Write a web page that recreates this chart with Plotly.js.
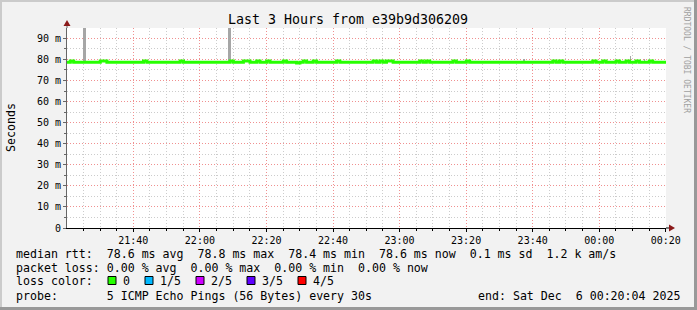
<!DOCTYPE html>
<html>
<head>
<meta charset="utf-8">
<script src="https://cdn.plot.ly/plotly-3.0.1.min.js"></script>
<style>html,body{margin:0;padding:0;background:#f2f2f2;}#chart{width:697px;height:310px;}</style>
</head>
<body>
<div id="chart"></div>
<script>
// ---------------- data ----------------
const chartTitle = 'Last 3 Hours from e39b9d306209';
const rangeStart = '2025-12-05 21:20:04';
const rangeEnd = '2025-12-06 00:20:04';
const medianStepMinutes = 1;
// median RTT (ms), one value per minute starting at rangeStart
const medianValues = [
  78.6,79.2,78.6,78.6,78.6,78.6,78.6,78.6,78.6,78.6, 79.2,79.2,78.6,78.6,78.6,78.6,78.6,78.6,78.6,78.6,
  78.6,78.6,78.6,79.2,78.6,78.6,78.6,78.6,78.6,78.6, 78.6,78.6,78.6,78.6,79.2,78.6,78.6,78.6,78.6,78.6,
  78.6,78.6,78.6,78.6,78.6,78.6,78.6,78.6,78.6,79.2, 78.6,78.6,78.6,79.2,79.2,78.6,78.6,79.2,78.6,78.6,
  79.2,78.6,78.6,78.6,78.6,79.2,78.6,78.6,78.6,78.3, 78.6,79.2,78.6,78.6,79.2,78.6,78.6,78.6,78.6,78.6,
  78.6,79.2,78.6,78.6,78.6,78.6,78.6,78.6,78.6,78.6, 78.6,78.6,79.2,78.6,79.2,78.6,79.2,79.2,78.6,78.6,
  78.6,78.6,78.6,78.6,78.6,78.6,79.2,78.6,79.2,78.6, 78.6,78.6,78.6,78.6,78.6,78.6,79.2,78.6,78.6,78.6,
  79.2,78.6,78.6,78.6,78.6,78.6,78.6,78.6,78.6,78.6, 78.6,78.6,78.6,78.6,78.6,78.6,78.6,78.6,78.6,78.6,
  78.6,78.6,78.6,78.6,78.6,78.6,79.2,78.6,79.2,78.6, 78.6,78.6,78.6,78.6,78.6,78.6,78.6,78.6,79.2,78.6,
  78.6,79.2,78.6,78.6,78.6,79.2,78.6,78.6,79.2,78.6, 78.6,79.2,78.6,78.6,78.6,79.2,78.6,78.6,78.6,78.6,
  78.6
];
// smoke (spread of the 5 pings) where it shows above the median
const smokeTimes = ['2025-12-05 21:25:20','2025-12-05 22:08:50','2025-12-05 23:37:15','2025-12-06 00:09:20','2025-12-06 00:13:45'];
const smokeLow = [78.6, 78.6, 78.6, 78.6, 78.6];
const smokeHigh = [120, 120, 80.2, 81.6, 80.4];
const yTickValues = [0, 10, 20, 30, 40, 50, 60, 70, 80, 90];
const yTickLabels = ['0', '10 m', '20 m', '30 m', '40 m', '50 m', '60 m', '70 m', '80 m', '90 m'];
const yAxisTitle = 'Seconds';
const legendLines = [
  'median rtt:  78.6 ms avg  78.8 ms max  78.4 ms min  78.6 ms now  0.1 ms sd  1.2 k am/s',
  'packet loss: 0.00 % avg  0.00 % max  0.00 % min  0.00 % now',
  'loss color:',
  'probe:       5 ICMP Echo Pings (56 Bytes) every 30s'
];
const lossLabels = ['0', '1/5', '2/5', '3/5', '4/5'];
const lossColors = ['#26ff00', '#00b8ff', '#ce00ff', '#5e00ff', '#ff0000'];
const endText = 'end: Sat Dec  6 00:20:04 2025';
const watermark = 'RRDTOOL / TOBI OETIKER';

// ---------------- helpers ----------------
const L = 67, R = 666, T = 28, B = 228;
const X = p => (p - L) / (R - L);
const Y = p => (B - p) / (B - T);
const nb = s => s.replace(/ /g, '\u00A0');
function addMinutes(str, m) {
  const [d, t] = str.split(' ');
  const [yy, mo, dd] = d.split('-').map(Number);
  const [hh, mi, ss] = t.split(':').map(Number);
  const ms = Date.UTC(yy, mo - 1, dd, hh, mi, ss) + m * 60000;
  return new Date(ms).toISOString().slice(0, 19).replace('T', ' ');
}
const medianTimes = medianValues.map((_, i) => addMinutes(rangeStart, i * medianStepMinutes));

const mono = 'DejaVu Sans Mono, monospace';

const traces = [
  {
    type: 'bar',
    x: smokeTimes,
    base: smokeLow,
    y: smokeHigh.map((h, i) => h - smokeLow[i]),
    width: [54000, 54000, 36000, 18000, 18000],
    marker: {color: '#a6a6a6', line: {width: 0}},
    hoverinfo: 'skip'
  },
  {
    type: 'scatter',
    mode: 'lines',
    x: medianTimes,
    y: medianValues,
    line: {color: lossColors[0], width: 3, shape: 'hv'},
    hoverinfo: 'skip'
  }
];

const shapes = [];
const annotations = [];

// borders
shapes.push({type: 'rect', xref: 'paper', yref: 'paper', x0: X(0), x1: X(697), y0: Y(0), y1: Y(2), fillcolor: '#cbcbcb', line: {width: 0}});
shapes.push({type: 'rect', xref: 'paper', yref: 'paper', x0: X(0), x1: X(2), y0: Y(0), y1: Y(310), fillcolor: '#cbcbcb', line: {width: 0}});
shapes.push({type: 'rect', xref: 'paper', yref: 'paper', x0: X(694), x1: X(697), y0: Y(0), y1: Y(310), fillcolor: '#999999', line: {width: 0}});
shapes.push({type: 'rect', xref: 'paper', yref: 'paper', x0: X(0), x1: X(697), y0: Y(307), y1: Y(310), fillcolor: '#999999', line: {width: 0}});

// axis extensions and arrows
shapes.push({type: 'line', xref: 'paper', yref: 'paper', x0: X(666), x1: X(670), y0: 0, y1: 0, line: {color: '#000', width: 1}});
shapes.push({type: 'line', xref: 'paper', yref: 'paper', x0: 0, x1: 0, y0: 1, y1: Y(24), line: {color: '#666', width: 1}});
shapes.push({type: 'path', xref: 'paper', yref: 'paper',
  path: `M ${X(675)} ${Y(228)} L ${X(669)} ${Y(224.5)} L ${X(669)} ${Y(231.5)} Z`, fillcolor: '#8b1a1a', line: {width: 0}});
shapes.push({type: 'path', xref: 'paper', yref: 'paper',
  path: `M ${X(67)} ${Y(20)} L ${X(63.5)} ${Y(26)} L ${X(70.5)} ${Y(26)} Z`, fillcolor: '#8b1a1a', line: {width: 0}});

// legend lines
const lineY = [253.5, 267.5, 281, 295.5];
legendLines.forEach((txt, i) => {
  annotations.push({xref: 'paper', yref: 'paper', x: X(15), y: Y(lineY[i]), xanchor: 'left', yanchor: 'middle',
    text: nb(txt), showarrow: false, font: {family: mono, size: 11.6, color: '#000'}, borderpad: 0});
});
annotations.push({xref: 'paper', yref: 'paper', x: X(681), y: Y(lineY[3]), xanchor: 'right', yanchor: 'middle',
  text: nb(endText), showarrow: false, font: {family: mono, size: 11.6, color: '#000'}, borderpad: 0});

// loss color boxes
const boxX = [108, 145, 196, 247, 298];
const labX = [122, 159, 210, 261, 312];
lossLabels.forEach((lab, i) => {
  shapes.push({type: 'rect', xref: 'paper', yref: 'paper', x0: X(boxX[i]), x1: X(boxX[i] + 8), y0: Y(276.5), y1: Y(284.5),
    fillcolor: lossColors[i], line: {color: '#000', width: 1}});
  annotations.push({xref: 'paper', yref: 'paper', x: X(labX[i]), y: Y(lineY[2]), xanchor: 'left', yanchor: 'middle',
    text: nb(lab), showarrow: false, font: {family: mono, size: 11.6, color: '#000'}, borderpad: 0});
});

// y axis title
annotations.push({xref: 'paper', yref: 'paper', x: X(11), y: Y(128), xanchor: 'center', yanchor: 'middle',
  text: yAxisTitle, textangle: -90, showarrow: false, font: {family: mono, size: 11.6, color: '#000'}});
// watermark
annotations.push({xref: 'paper', yref: 'paper', x: X(687), y: Y(60), xanchor: 'center', yanchor: 'middle',
  text: nb(watermark), textangle: 90, showarrow: false, font: {family: mono, size: 8, color: '#a0a0a0'}});

const layout = {
  width: 697, height: 310,
  margin: {l: L, r: 697 - R, t: T, b: 310 - B, pad: 0},
  paper_bgcolor: '#f2f2f2',
  plot_bgcolor: '#ffffff',
  showlegend: false,
  hovermode: false,
  bargap: 0,
  title: {text: chartTitle, font: {family: mono, size: 13.3, color: '#000'},
    xref: 'paper', x: X(348), xanchor: 'center', yref: 'container', y: 1 - 19 / 310, yanchor: 'middle'},
  xaxis: {
    type: 'date',
    range: [rangeStart, rangeEnd],
    tick0: '2025-12-05 21:40:00', dtick: 1200000,
    tickformat: '%H:%M',
    ticks: 'outside', ticklen: 3, tickcolor: '#000',
    tickfont: {family: mono, size: 10, color: '#000'},
    showgrid: true, gridcolor: '#f09090', griddash: '1px,2px', gridwidth: 1,
    minor: {dtick: 300000, tick0: '2025-12-05 21:40:00', showgrid: true, gridcolor: '#cccccc', griddash: '1px,2px', gridwidth: 1,
      ticks: 'outside', ticklen: 2, tickcolor: '#000'},
    showline: true, linecolor: '#000', linewidth: 1,
    zeroline: false, fixedrange: true
  },
  yaxis: {
    range: [0, 94.9],
    tickvals: yTickValues, ticktext: yTickLabels,
    ticks: 'outside', ticklen: 3, tickcolor: '#666',
    tickfont: {family: mono, size: 10, color: '#000'},
    showgrid: true, gridcolor: '#f09090', griddash: '1px,2px', gridwidth: 1,
    minor: {dtick: 5, tick0: 0, showgrid: true, gridcolor: '#cccccc', griddash: '1px,2px', gridwidth: 1,
      ticks: 'outside', ticklen: 2, tickcolor: '#666'},
    showline: true, linecolor: '#666', linewidth: 1,
    zeroline: false, fixedrange: true
  },
  shapes: shapes,
  annotations: annotations
};

Plotly.newPlot('chart', traces, layout, {displayModeBar: false, staticPlot: true});
</script>
</body>
</html>
